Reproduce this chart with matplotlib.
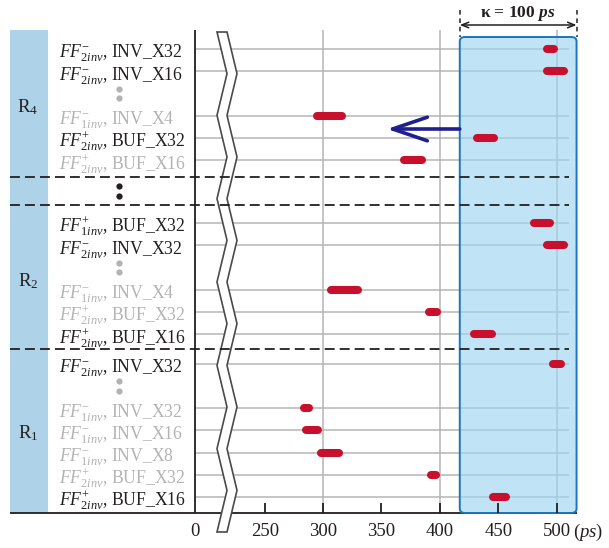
import numpy as np
import matplotlib.pyplot as plt
from matplotlib.patches import FancyBboxPatch, Polygon, Rectangle

plt.rcParams["font.family"] = "Liberation Serif"
plt.rcParams["mathtext.fontset"] = "custom"
plt.rcParams["mathtext.rm"] = "Liberation Serif"
plt.rcParams["mathtext.it"] = "Liberation Serif:italic"
plt.rcParams["mathtext.bf"] = "Liberation Serif:bold"
plt.rcParams["mathtext.bfit"] = "Liberation Serif:italic:bold"

# cells of each region, top to bottom, with their delay range in ps
r4_cells = [r"$FF^{-}_{2inv}$, INV_X32", r"$FF^{-}_{2inv}$, INV_X16",
            r"$FF^{-}_{1inv}$, INV_X4", r"$FF^{+}_{2inv}$, BUF_X32",
            r"$FF^{+}_{2inv}$, BUF_X16"]
r4_lo = [488, 488, 291, 428, 366]
r4_hi = [501, 510, 320, 450, 388]
r4_kept = [True, True, False, True, False]

r2_cells = [r"$FF^{+}_{1inv}$, BUF_X32", r"$FF^{-}_{2inv}$, INV_X32",
            r"$FF^{-}_{1inv}$, INV_X4", r"$FF^{+}_{2inv}$, BUF_X32",
            r"$FF^{+}_{2inv}$, BUF_X16"]
r2_lo = [477, 488, 303, 387, 426]
r2_hi = [498, 510, 333, 401, 448]
r2_kept = [True, True, False, False, True]

r1_cells = [r"$FF^{-}_{2inv}$, INV_X32", r"$FF^{-}_{1inv}$, INV_X32",
            r"$FF^{-}_{1inv}$, INV_X16", r"$FF^{-}_{1inv}$, INV_X8",
            r"$FF^{+}_{2inv}$, BUF_X32", r"$FF^{+}_{2inv}$, BUF_X16"]
r1_lo = [493, 280, 282, 295, 389, 442]
r1_hi = [507, 291, 299, 317, 400, 460]
r1_kept = [True, False, False, False, False, True]

region_names = ["R$_4$", "R$_2$", "R$_1$"]
tick_values = [250, 300, 350, 400, 450, 500]
kappa = 100
window_start = 417

# colours
BLACK = "#231f20"
GREY = "#b3b3b3"
GRID = "#b5b5b5"
RED = "#c8102e"
NAVY = "#1f1f8f"

# figure in pixel units vertically, ps horizontally
W, H = 609, 548
PX = 1.168      # pixels per ps
X250 = 264.7    # pixel column of 250 ps


def xps(px):
    return 250 + (np.asarray(px, dtype=float) - X250) / PX


fig = plt.figure(figsize=(W / 100, H / 100), dpi=100)
ax = fig.add_axes([0, 0, 1, 1])
ax.set_xlim(xps(0), xps(W))
ax.set_ylim(H, 0)
ax.axis("off")

top, base = 30, 513
x0 = 190                  # where the "0" sits after the break
x_end = xps(569)          # right end of the row lines
pitch = 22.2

# left strip with region names
ax.add_patch(Rectangle((xps(10), top), xps(48) - xps(10), base - top,
                       fc="#aed2e8", ec="none", zorder=1))

groups = [(r4_cells, r4_lo, r4_hi, r4_kept, 160, 1),
          (r2_cells, r2_lo, r2_hi, r2_kept, 334, 1),
          (r1_cells, r1_lo, r1_hi, r1_kept, 497, 0)]

r = 4 / PX  # round cap radius in ps
for name, (cells, lo, hi, kept, bottom, gap) in zip(region_names, groups):
    n = len(cells)
    slots = [i if i <= gap else i + 1 for i in range(n)]
    ys = [bottom - (n - s) * pitch for s in slots]
    ydots = bottom - (n - (gap + 1)) * pitch
    # row lines
    ax.hlines(ys, x0, x_end, color=GRID, lw=1.1, zorder=2)
    # delay ranges
    ax.hlines(ys, np.array(lo) + r, np.array(hi) - r, color=RED, lw=5.8,
              capstyle="round", zorder=7)
    for y, c, k in zip(ys, cells, kept):
        ax.text(xps(59), y + 9, c, fontsize=12.7, va="baseline", ha="left",
                color=BLACK if k else GREY, zorder=3)
    ax.plot([xps(119)] * 2, [ydots - 4.7, ydots + 4.7], "o", ms=4.5,
            color=GREY, mec="none", zorder=3)
    ax.text(xps(28), (ys[0] + ys[-1]) / 2 + 8, name, fontsize=13.5,
            ha="center", va="baseline", color=BLACK, zorder=3)

# skipped regions between R2 and R4
ax.plot([xps(119)] * 2, [186, 195.5], "o", ms=4.5, color=BLACK, mec="none",
        zorder=3)

# vertical grid
ax.vlines([300, 400, 500], top, base, color=GRID, lw=1.1, zorder=2)

# axes lines and ticks
ax.vlines(x0, top, base, color=BLACK, lw=1.3, zorder=6)
ax.hlines(base, xps(10), window_start + kappa, color=BLACK, lw=1.3, zorder=4)
ax.vlines(tick_values, base - 10, base, color=BLACK, lw=1.3, zorder=8)
ax.text(x0, 532, "0", fontsize=13.5, ha="center", va="center", color=BLACK)
for t in tick_values:
    ax.text(t, 532, str(t), fontsize=13.5, ha="center", va="center",
            color=BLACK)
ax.text(xps(573), 532, "($ps$)", fontsize=13.5, ha="left", va="center",
        color=BLACK)

# region separators
for yd in [177, 205, 349]:
    ax.hlines(yd, xps(10), x_end, color=BLACK, lw=1.3,
              linestyles=(0, (5.5, 2.8)), zorder=9)

# axis break
yk = np.linspace(32, 532, 13)
side = np.where(np.arange(13) % 2 == 0, -1, 1)
left = np.column_stack([xps(227 - 5 + 5 * side), yk])
right = np.column_stack([xps(227 + 5 + 5 * side), yk])[::-1]
ax.add_patch(Polygon(np.vstack([left, right]), closed=True, fc="white",
                     ec="#4a4a4a", lw=1.2, zorder=8, clip_on=False))

# kappa window
ax.add_patch(FancyBboxPatch((window_start, 37), kappa, base - 37,
                            boxstyle="round,pad=0,rounding_size=4.5",
                            fc=(0.62, 0.83, 0.95, 0.65), ec="#1a75bc",
                            lw=1.4, zorder=5))
ax.annotate("", xy=(window_start, 25), xytext=(window_start + kappa, 25),
            arrowprops=dict(arrowstyle="<->,head_length=0.5,head_width=0.2",
                            lw=1.1, color=BLACK, shrinkA=0, shrinkB=0))
ax.vlines([window_start, window_start + kappa], 10, 37, color=BLACK, lw=1.1,
          linestyles=(0, (3, 2.5)))
ax.text(window_start + kappa / 2, 17, r"κ = 100 $\mathbfit{ps}$",
        fontsize=12.5, fontweight="bold", ha="center", va="baseline",
        color=BLACK)

# shift arrow
ax.annotate("", xy=(xps(387), 129), xytext=(window_start, 129),
            arrowprops=dict(arrowstyle="->,head_length=2.5,head_width=0.85",
                            lw=2.6, color=NAVY, shrinkA=0, shrinkB=0),
            zorder=9)

fig.savefig("out.png", dpi=100)
